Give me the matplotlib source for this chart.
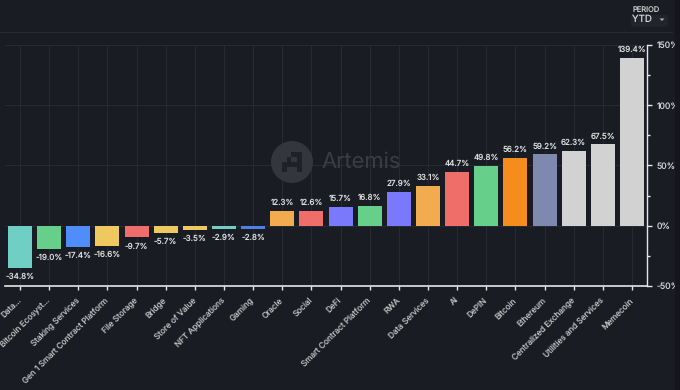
import matplotlib
matplotlib.use("Agg")
import matplotlib.pyplot as plt
from matplotlib.patches import Circle, Rectangle, FancyBboxPatch, Polygon

categories = ["Data...", "Bitcoin Ecosyst...", "Staking Services", "Gen 1 Smart Contract Platform",
              "File Storage", "Bridge", "Store of Value", "NFT Applications", "Gaming", "Oracle",
              "Social", "DeFi", "Smart Contract Platform", "RWA", "Data Services", "AI", "DePIN",
              "Bitcoin", "Ethereum", "Centralized Exchange", "Utilities and Services", "Memecoin"]
values = [-34.8, -19.0, -17.4, -16.6, -9.7, -5.7, -3.5, -2.9, -2.8, 12.3, 12.6, 15.7, 16.8,
          27.9, 33.1, 44.7, 49.8, 56.2, 59.2, 62.3, 67.5, 139.4]
colors = ["#6fcfc4", "#66d08a", "#4f8dfb", "#f0c860", "#f06e6a", "#f0c860", "#f0c860", "#6fcfc4",
          "#4f7fe8", "#f3ab50", "#f06e6a", "#7a78fb", "#66d08a", "#7a78fb", "#f3ab50", "#f06e6a",
          "#66d08a", "#f78c1e", "#7f88ad", "#d2d2d2", "#d2d2d2", "#d2d2d2"]
major_ticks = [-50, 0, 50, 100, 150]
minor_ticks = [-25, 25, 75, 125]

BG = "#1a1c24"
W, H = 680, 390
plt.rcParams["font.family"] = ["Inter", "DejaVu Sans"]
plt.rcParams["text.hinting"] = "no_hinting"
plt.rcParams["text.hinting_factor"] = 1

fig = plt.figure(figsize=(W / 100, H / 100), dpi=100, facecolor=BG)
L, R, T, B = 5.4, 646.6, 45, 286
ax = fig.add_axes([L / W, 1 - B / H, (R - L) / W, (B - T) / H], facecolor=BG)

x = list(range(len(values)))
ax.bar(x, values, width=0.82, color=colors, zorder=3)
for xi, v in zip(x, values):
    ax.annotate(f"{v:.1f}%", (xi, v), xytext=(0, 3 if v > 0 else -3.5), textcoords="offset points",
                ha="center", va="bottom" if v > 0 else "top", fontsize=5.8, color="#dedede", zorder=4)

ax.set_xlim(-0.5, len(values) - 0.5)
ax.set_ylim(-50, 150)
ax.yaxis.tick_right()
ax.set_yticks(major_ticks)
ax.set_yticks(minor_ticks, minor=True)
ax.set_yticklabels([f"{t}%" for t in major_ticks], fontsize=6.2, color="#d4d4d4")
ax.tick_params(axis="y", which="major", length=3.8, width=1, color="#e6e6e6", pad=3.4)
ax.tick_params(axis="y", which="minor", length=1.8, width=1, color="#e6e6e6")
ax.set_xticks(x)
ax.set_xticklabels(categories, rotation=45, ha="right", va="center", rotation_mode="anchor",
                   fontsize=5.9, color="#bdbdbd")
ax.tick_params(axis="x", length=3, width=1, color="#e6e6e6", pad=6.5)
ax.grid(True, which="major", color="#292b32", linewidth=0.7, zorder=0)
ax.set_axisbelow(True)
for s in ("top", "left"):
    ax.spines[s].set_visible(False)
ax.spines["bottom"].set_color("#e6e6e6")
ax.spines["bottom"].set_linewidth(1.2)
ax.spines["right"].set_color("#e6e6e6")
ax.spines["right"].set_linewidth(1.0)

# Overlay: header rule, period control, watermark
ov = fig.add_axes([0, 0, 1, 1], facecolor="none", zorder=5)
ov.set_xlim(0, W)
ov.set_ylim(H, 0)
ov.axis("off")
ov.plot([0, 672], [32, 32], color="#272931", lw=0.8)
ov.add_patch(Rectangle((674.5, 0), 5.5, H, color="#15161c", lw=0))
ov.add_patch(FancyBboxPatch((631, 15), 37, 11.5, boxstyle="round,pad=0,rounding_size=2", fc="#22242c", ec="none"))
ov.text(632.5, 10, "PERIOD", fontsize=5.4, color="#c8c8c8", va="center")
ov.text(632.5, 19.8, "YTD", fontsize=7, color="#d8d8d8", va="center")
ov.add_patch(Polygon([[659.5, 18.5], [664.5, 18.5], [662, 21]], fc="#b0b0b0", ec="none"))

ov.add_patch(Circle((292, 162), 21, fc="#34363d", ec="none"))
ov.add_patch(Polygon([[282, 172], [282, 162], [287, 162], [287, 157], [291, 157], [291, 152], [302, 152],
                      [302, 172], [297, 172], [297, 167], [287, 167], [287, 172]], fc="#1f2128", ec="none"))
ov.add_patch(Rectangle((291, 157), 6, 5, fc="#34363d", ec="none"))
ov.text(322, 162, "Artemis", fontsize=15.8, color="#3a3c43", va="center", ha="left")

fig.savefig("out.png", dpi=100, facecolor=BG)
